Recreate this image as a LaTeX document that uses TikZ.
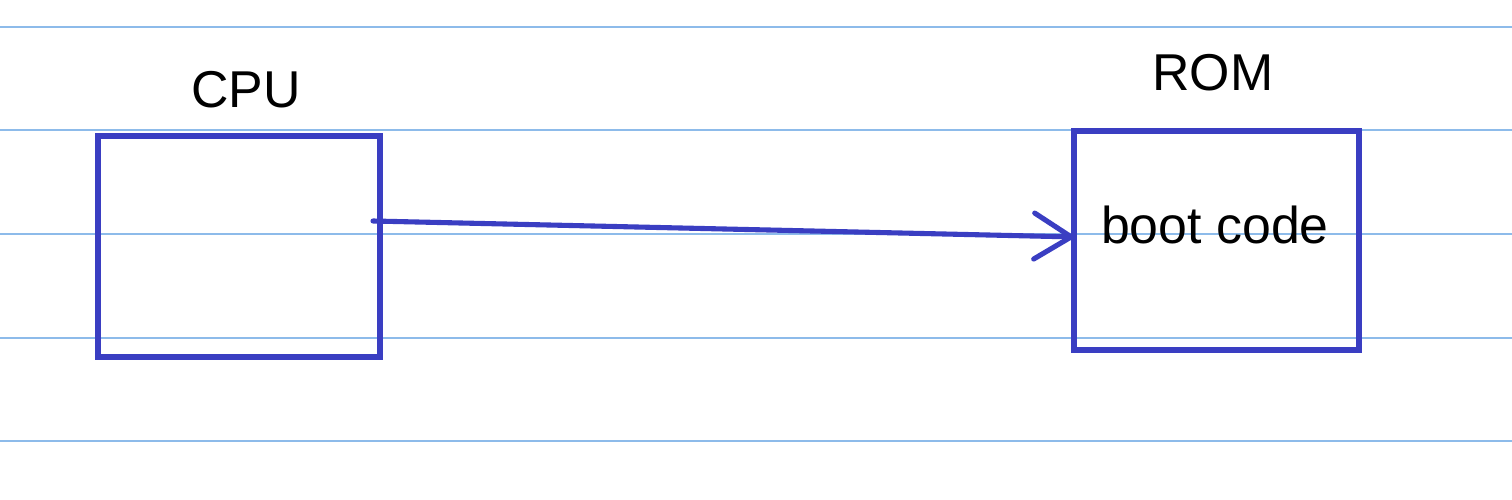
\documentclass[tikz,border=0pt]{standalone}
\usepackage{fontspec}
\setmainfont{Liberation Sans}
\usetikzlibrary{arrows.meta}
\definecolor{rule}{HTML}{8DBBEA}
\definecolor{ink}{HTML}{3A3EC2}
\tikzset{
  ruleline/.style={draw=rule, line width=1.1pt},
  box/.style={draw=ink, line width=2.9pt, inner sep=0pt},
  lbl/.style={font=\fontsize{29.5}{32}\selectfont, inner sep=0pt, text=black},
  conn/.style={draw=ink, line width=2.9pt, line cap=round, -{Straight Barb[length=0.74cm,width=0.92cm,line cap=round]}}
}
\begin{document}
\begin{tikzpicture}[x=0.02cm,y=-0.02cm]
\useasboundingbox (0,0) rectangle (1512,500);
\fill[white] (0,0) rectangle (1512,500);
\foreach \yy in {27,130,234,338,441}{
  \draw[ruleline] (0,\yy) -- (1512,\yy);
}
\node[box, minimum width=5.64cm, minimum height=4.42cm] (cpu) at (239,246.5) {};
\node[box, minimum width=5.7cm, minimum height=4.38cm] (rom) at (1216.5,240.5) {};
\node[lbl] (cpulbl) at (246,90) {CPU};
\node[lbl] (romlbl) at (1213,73) {ROM};
\node[lbl] (boot) at (1215,225) {boot code};
\coordinate (start) at (373,221);
\coordinate (tip) at (1076,237);
\draw[conn] (start) -- (tip);
\end{tikzpicture}
\end{document}
